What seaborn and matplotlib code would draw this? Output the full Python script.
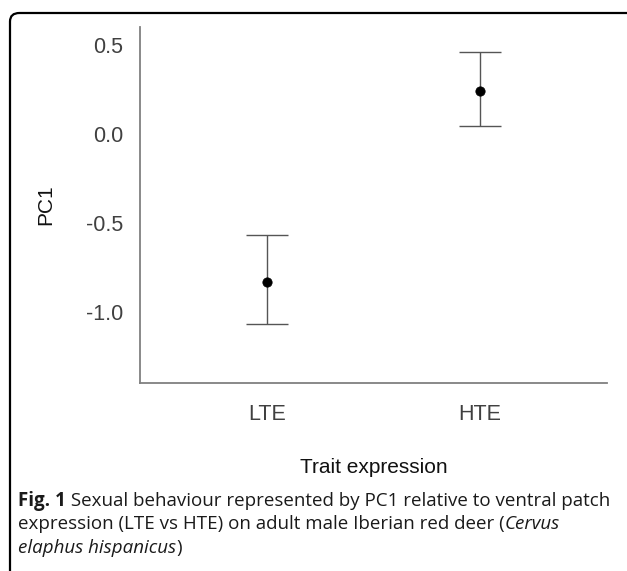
import numpy as np
import pandas as pd
import matplotlib
matplotlib.use("Agg")
import matplotlib.pyplot as plt
import seaborn as sns
from matplotlib.patches import FancyBboxPatch

# Data (PC1 mean and error bar ends)
groups = ["LTE", "HTE"]
pc1_mean = [-0.83, 0.24]
err_low = [-1.07, 0.045]
err_high = [-0.567, 0.46]

df = pd.DataFrame({"group": groups, "PC1": pc1_mean})

sns.set_style("white")
plt.rcParams["font.family"] = ["Liberation Sans", "DejaVu Sans"]

fig = plt.figure(figsize=(6.27, 5.71), dpi=100)
ax = fig.add_axes([140 / 627, 1 - 383 / 571, 467 / 627, 356 / 571])

# error bars
pos = np.arange(len(groups))
yerr = [np.array(pc1_mean) - np.array(err_low), np.array(err_high) - np.array(pc1_mean)]
ax.errorbar(pos, pc1_mean, yerr=yerr, fmt="none", ecolor="#555555",
            elinewidth=1.0, capsize=15, capthick=1.0, zorder=2)
sns.scatterplot(data=df, x="group", y="PC1", ax=ax, color="black", s=45,
                edgecolor="black", zorder=3, legend=False)

ax.set_xlim(-0.6, 1.6)
ax.set_ylim(-1.4, 0.6)
ax.set_yticks([0.5, 0.0, -0.5, -1.0])
ax.set_yticklabels(["0.5", "0.0", "-0.5", "-1.0"])
ax.set_xticks(pos)
ax.set_xticklabels(groups)

for side in ["top", "right"]:
    ax.spines[side].set_visible(False)
for side in ["left", "bottom"]:
    ax.spines[side].set_color("#808080")
    ax.spines[side].set_linewidth(1.3)

ax.tick_params(axis="both", direction="out", length=3, width=1, color="#808080",
               labelsize=15.5, labelcolor="#404040")
ax.tick_params(axis="y", pad=9)
ax.tick_params(axis="x", pad=12)

ax.set_xlabel("Trait expression", fontsize=15, color="#111111", labelpad=24)
ax.set_ylabel("PC1", fontsize=15, color="#111111", labelpad=22)

# outer frame of the figure panel
frame = FancyBboxPatch((10 / 627, -0.1), 640 / 627, 1.1 - 13 / 571,
                       boxstyle="round,pad=0,rounding_size=0.015",
                       transform=fig.transFigure, fill=False,
                       edgecolor="black", linewidth=1.6, clip_on=False)
fig.patches.append(frame)

# caption, written piece by piece so bold / italic parts follow each other
cap_font = ["Open Sans", "DejaVu Sans"]
cap_size = 13.5
renderer = fig.canvas.get_renderer()


def caption_line(y_px, pieces):
    x_px = 18
    for txt, weight, style in pieces:
        t = fig.text(x_px / 627, 1 - y_px / 571, txt, fontsize=cap_size,
                     va="center", family=cap_font, weight=weight, style=style,
                     color="#1a1a1a")
        x_px += t.get_window_extent(renderer).width


caption_line(501, [("Fig. 1", "bold", "normal"),
                   (" Sexual behaviour represented by PC1 relative to ventral patch",
                    "normal", "normal")])
caption_line(524, [("expression (LTE vs HTE) on adult male Iberian red deer (",
                    "normal", "normal"),
                   ("Cervus", "normal", "italic")])
caption_line(548, [("elaphus hispanicus", "normal", "italic"),
                   (")", "normal", "normal")])

fig.savefig("out.png", dpi=100)
